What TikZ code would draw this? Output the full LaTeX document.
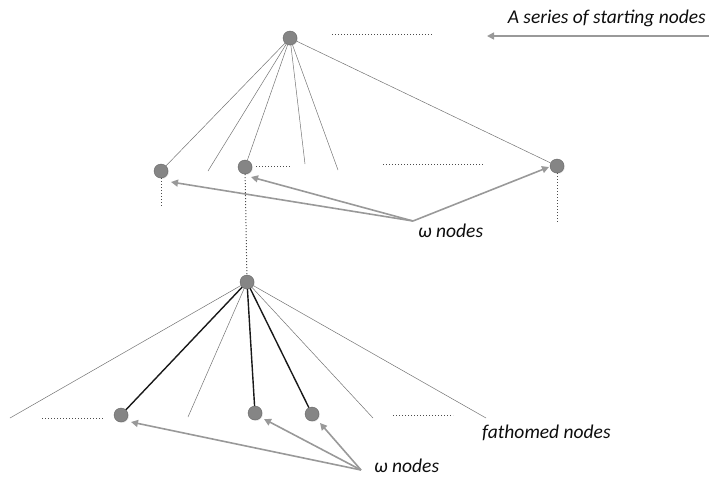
\documentclass[tikz,border=0pt]{standalone}
\usepackage{fontspec}
\setmainfont{Carlito}
\usetikzlibrary{arrows.meta,shadows}
\tikzset{
  tnode/.style={circle,fill=black!48,draw=black!60,line width=0.4pt,minimum size=14pt,inner sep=0pt,drop shadow={shadow xshift=0.8pt,shadow yshift=-0.8pt,opacity=0.25}},
  thin edge/.style={draw=black!55,line width=0.5pt},
  bold edge/.style={draw=black!90,line width=1.4pt},
  dotline/.style={draw=black!70,line width=1pt,dash pattern=on 1pt off 2pt},
  pointer/.style={draw=black!40,line width=1.6pt,-{Triangle[length=7pt,width=7pt]}},
  lbl/.style={font=\itshape\fontsize{19.5}{22}\selectfont,inner sep=0pt,text=black!95}
}
\begin{document}
\begin{tikzpicture}[x=1pt,y=-1pt]
\useasboundingbox (0,0) rectangle (709,479);

% ---------- upper level ----------
\node[tnode] (r) at (290,38) {};
\node[tnode] (a) at (161,171) {};
\node[tnode] (b) at (245,167) {};
\node[tnode] (c) at (557,166) {};

\coordinate (u1) at (208,171);
\coordinate (u2) at (305,164);
\coordinate (u3) at (338,170);

\draw[thin edge] (r) -- (a);
\draw[thin edge] (r) -- (u1);
\draw[thin edge] (r) -- (b);
\draw[thin edge] (r) -- (u2);
\draw[thin edge] (r) -- (u3);
\draw[thin edge] (r) -- (c);

% horizontal dots standing for siblings
\coordinate (h1s) at (332,34);  \coordinate (h1e) at (433,34);
\coordinate (h2s) at (256,166); \coordinate (h2e) at (290,166);
\coordinate (h3s) at (383,164); \coordinate (h3e) at (483,164);
\draw[dotline,line width=0.6pt] (h1s) -- (h1e);
\draw[dotline,line width=0.6pt] (h2s) -- (h2e);
\draw[dotline,line width=0.6pt] (h3s) -- (h3e);

% vertical dots below the upper nodes
\coordinate (va) at (161,207);
\coordinate (vc) at (557,224);
\draw[dotline] (a) -- (va);
\draw[dotline] (c) -- (vc);

% starting-nodes label
\node[lbl,anchor=east] (start) at (706,18) {A series of starting nodes};
\coordinate (startbeg) at (709,36);
\coordinate (starttip) at (487,36);
\draw[pointer] (startbeg) -- (starttip);

% omega label (upper)
\node[lbl,anchor=west] (om1) at (418,231) {ω nodes};
\coordinate (o1) at (413,221);
\coordinate (ta) at (171,182);
\coordinate (tb) at (251,177);
\coordinate (tc) at (549,167);
\draw[pointer] (o1) -- (ta);
\draw[pointer] (o1) -- (tb);
\draw[pointer] (o1) -- (tc);

% ---------- lower level ----------
\node[tnode] (l) at (247,282) {};
\draw[dotline] (b) -- (l);

\node[tnode] (n1) at (121,415) {};
\node[tnode] (n2) at (255,413) {};
\node[tnode] (n3) at (312,414) {};

\coordinate (w1) at (10,418);
\coordinate (w2) at (188,417);
\coordinate (w3) at (373,418);
\coordinate (w4) at (486,418);

\draw[thin edge] (l) -- (w1);
\draw[bold edge] (l) -- (n1);
\draw[thin edge] (l) -- (w2);
\draw[bold edge] (l) -- (n2);
\draw[bold edge] (l) -- (n3);
\draw[thin edge] (l) -- (w3);
\draw[thin edge] (l) -- (w4);

\coordinate (h4s) at (42,418);  \coordinate (h4e) at (103,418);
\coordinate (h5s) at (393,415); \coordinate (h5e) at (453,415);
\draw[dotline,line width=0.6pt] (h4s) -- (h4e);
\draw[dotline,line width=0.6pt] (h5s) -- (h5e);

\node[lbl,anchor=west] (fath) at (482,433) {fathomed nodes};

% omega label (lower)
\node[lbl,anchor=west] (om2) at (374,466) {ω nodes};
\coordinate (o2) at (361,470);
\coordinate (t1) at (131,422);
\coordinate (t2) at (264,419);
\coordinate (t3) at (320,423);
\draw[pointer] (o2) -- (t1);
\draw[pointer] (o2) -- (t2);
\draw[pointer] (o2) -- (t3);
\end{tikzpicture}
\end{document}
